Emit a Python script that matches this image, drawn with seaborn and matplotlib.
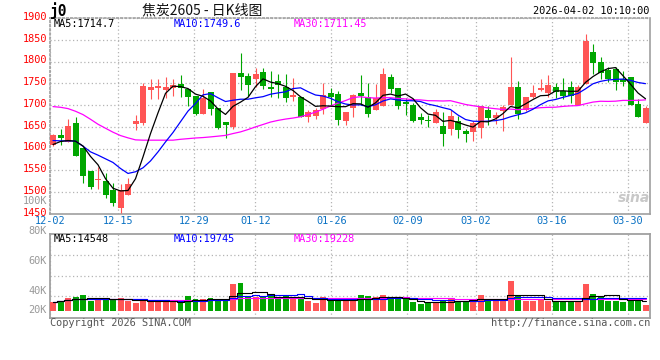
import numpy as np
import pandas as pd
import matplotlib
matplotlib.use("Agg")
import matplotlib.pyplot as plt
from matplotlib.transforms import ScaledTranslation
import seaborn as sns

# ---------------- data ----------------
tick_labels = ["12-02", "12-15", "12-29", "01-12", "01-26", "02-09", "03-02", "03-16", "03-30"]
tick_index = [0, 9, 19, 27, 37, 47, 56, 66, 76]

opens = [1608, 1631.7, 1614.9, 1659.1, 1600.4, 1547.7, 1527.1, 1526.3, 1505.7, 1464.5,
         1492.7, 1656.9, 1659.1, 1735.5, 1739.3, 1734.7, 1739.3, 1748.5, 1737, 1721,
         1680.5, 1730.1, 1693.5, 1661.4, 1650, 1773.7, 1766.8, 1760.7, 1776, 1741.6,
         1755.3, 1741.6, 1718.7, 1718.7, 1672.9, 1675.9, 1692, 1727.9, 1725.6, 1663.7,
         1693.5, 1727.9, 1718.7, 1689.7, 1698.8, 1764.5, 1739.3, 1708, 1700.4, 1673.7,
         1666.8, 1659.9, 1653.1, 1646.2, 1663.7, 1640.8, 1638.5, 1648.5, 1689.7, 1671.4,
         1687.4, 1701.1, 1741.6, 1689.7, 1718.7, 1734.7, 1728.6, 1741.6, 1732.4, 1741.6,
         1701.1, 1749.2, 1821.8, 1798.9, 1780.5, 1782.8, 1759.9, 1764.5, 1702.7, 1659.1]
highs = [1633, 1645.4, 1669.1, 1672.9, 1600.4, 1547.7, 1557.6, 1543.9, 1521.7, 1519.4,
         1533.2, 1676.7, 1750.8, 1759.2, 1759.2, 1764.5, 1759.9, 1769.1, 1737, 1721,
         1737, 1730.1, 1693.5, 1661.4, 1773.7, 1819.5, 1773.7, 1785.1, 1785.1, 1778.2,
         1771.4, 1771.4, 1762.2, 1718.7, 1689.7, 1693.5, 1750.8, 1739.3, 1732.4, 1684.3,
         1725.6, 1769.1, 1750.8, 1748.5, 1785.1, 1771.4, 1739.3, 1716.4, 1704.9, 1682,
         1676.7, 1692, 1684.3, 1689.7, 1675.2, 1645.4, 1663.7, 1698.1, 1698.9, 1684.3,
         1701.1, 1810.3, 1755.3, 1718.7, 1746.2, 1759.9, 1769.1, 1750.8, 1762.2, 1755.3,
         1746.2, 1863, 1840.1, 1809.5, 1787.4, 1787.4, 1778.2, 1764.5, 1714.1, 1698.9]
lows = [1607, 1609.5, 1614.9, 1584.3, 1521.7, 1508, 1508, 1487.4, 1468.3, 1453,
        1492.7, 1643.9, 1654.6, 1714.1, 1714.1, 1715.6, 1720.2, 1718.7, 1698.8, 1676.7,
        1680.5, 1676.7, 1646.2, 1624.8, 1645.4, 1735.5, 1720.2, 1741.6, 1737.8, 1718.7,
        1716.4, 1707.2, 1709.5, 1672.9, 1661.4, 1669.1, 1680.5, 1697.3, 1655.3, 1655.3,
        1672.9, 1701.1, 1672.9, 1689.7, 1698.8, 1727.9, 1692, 1678.2, 1661.4, 1657.6,
        1650, 1659.9, 1607.2, 1632.4, 1624, 1616.4, 1618.7, 1624.8, 1655.3, 1657.6,
        1641.6, 1701.1, 1669.1, 1687.4, 1716.4, 1733.2, 1718.7, 1716.4, 1714.1, 1704.9,
        1701.1, 1749.2, 1771.4, 1759.9, 1753, 1734.7, 1743.9, 1700.4, 1672.9, 1659.1]
closes = [1631.7, 1625.6, 1652.3, 1584.3, 1536.3, 1512.6, 1529.4, 1492.7, 1474.4, 1505.7,
          1517.9, 1663.7, 1743.9, 1741.6, 1743.9, 1741.6, 1746.2, 1739.3, 1718.7, 1680.5,
          1716.4, 1692, 1648.5, 1655.3, 1773.7, 1764.5, 1746.9, 1771.4, 1744.7, 1737,
          1746.2, 1716.4, 1723.3, 1672.9, 1684.3, 1688.9, 1723.3, 1718.7, 1666.8, 1684.3,
          1723.3, 1721, 1680.5, 1716.4, 1771.4, 1737, 1698.8, 1703.4, 1663.7, 1666.8,
          1664.5, 1684.3, 1634, 1675.2, 1643.9, 1634.7, 1659.9, 1698.1, 1671.4, 1677.5,
          1695.8, 1741.6, 1680.5, 1718.7, 1727.9, 1739.3, 1746.2, 1730.1, 1721, 1721,
          1741.6, 1847, 1797.3, 1773.7, 1759.9, 1753, 1753, 1700.4, 1672.9, 1693.5]
volumes_k = [14.0, 15.5, 19.1, 21.2, 24.3, 15.5, 19.1, 17.6, 17.6, 19.1,
             15.5, 11.9, 17.6, 14.0, 14.0, 14.0, 14.0, 14.0, 22.7, 17.6,
             17.6, 19.1, 15.5, 17.6, 41.4, 43.4, 20.7, 20.7, 20.7, 22.7,
             17.6, 24.3, 20.7, 19.1, 15.5, 11.9, 20.7, 15.5, 16.5, 15.5,
             15.5, 24.3, 22.7, 21.2, 24.3, 17.6, 17.6, 17.6, 14.0, 10.3,
             11.4, 14.0, 16.5, 17.6, 15.5, 14.0, 17.6, 24.3, 17.6, 15.5,
             17.6, 46.0, 24.3, 15.5, 15.5, 17.6, 15.5, 14.0, 14.0, 14.0,
             15.5, 41.4, 25.9, 20.7, 15.5, 15.5, 14.0, 19.1, 16.5, 8.8]

# moving-average values at the start of the window (history before 12-02)
ma5_head = [1609.5, 1616.4, 1618.7, 1617.2]
ma10_head = [1618.7, 1617.9, 1617.9, 1617.2, 1605.7, 1592.7, 1585.1, 1576.7, 1568.3]
ma30_head = [1696.6, 1695.0, 1692.0, 1685.9, 1678.2, 1667.5, 1656.1, 1646.9, 1637.8, 1630.1,
             1624.8, 1620.2, 1619.5, 1619.5, 1619.5, 1619.5, 1619.5, 1621.5, 1623.0, 1624.5,
             1625.5, 1627.0, 1628.7, 1630.5, 1634.7, 1638.5, 1643.9, 1650.0, 1655.5]

title_text = "焦炭2605 - 日K线图"
code_text = "j0"
stamp_text = "2026-04-02 10:10:00"
price_legend = ["MA5:1714.7", "MA10:1749.6", "MA30:1711.45"]
vol_legend = ["MA5:14548", "MA10:19745", "MA30:19228"]
vol_axis_labels = ["100K", "80K", "60K", "40K", "20K"]
footer_left = "Copyright 2026 SINA.COM"
footer_right = "http://finance.sina.com.cn"

# ---------------- styles ----------------
RED = "#ff5555"
GREEN = "#00a600"
BLUE = "#0000ff"
MAGENTA = "#ff00ff"
GRID = "#b4b4b4"
FRAME = "#a0a0a0"
DATECOL = "#0b72c4"
MONO = "DejaVu Sans Mono"

sns.set_style("white")
plt.rcParams["font.family"] = ["DejaVu Sans Mono", "DejaVu Sans"]

W, H = 660, 360
fig = plt.figure(figsize=(W / 100, H / 100), dpi=100)


def fx(x):
    return x / W


def fy(y):
    return 1 - y / H


ax = fig.add_axes([fx(50), fy(214), 600 / W, 196 / H])
axv = fig.add_axes([fx(50), fy(317.7), 600 / W, 83.4 / H])

idx = np.arange(len(closes))
o = np.array(opens)
hi = np.array(highs)
lo = np.array(lows)
c = np.array(closes)
up = c >= o
cols = np.where(up, RED, GREEN)

# candles
ax.vlines(idx, lo, hi, colors=cols, lw=0.8, zorder=3)
body_lo = np.minimum(o, c)
body_h = np.maximum(np.abs(c - o), 2.0)
ax.bar(idx, body_h, bottom=body_lo, width=0.8, color=cols, linewidth=0, zorder=3)


def moving(series, n, head):
    m = pd.Series(series).rolling(n).mean().to_numpy()
    m[:len(head)] = head
    return m


ma5 = moving(closes, 5, ma5_head)
ma10 = moving(closes, 10, ma10_head)
ma30 = moving(closes, 30, ma30_head)
for m, colr in [(ma30, MAGENTA), (ma10, BLUE), (ma5, "black")]:
    sns.lineplot(x=idx, y=m, ax=ax, color=colr, lw=0.9, estimator=None, zorder=4)

# volume
vdf = pd.DataFrame({"idx": idx, "vol": volumes_k, "dir": np.where(up, "up", "down")})
sns.barplot(data=vdf, x="idx", y="vol", hue="dir", palette={"up": RED, "down": GREEN},
            native_scale=True, width=0.8, dodge=False, legend=False, saturation=1,
            errorbar=None, linewidth=0, ax=axv, zorder=3)
vs = pd.Series(volumes_k)
for n, colr in [(30, MAGENTA), (10, BLUE), (5, "black")]:
    vm = vs.rolling(n, min_periods=1).mean().to_numpy()
    sns.lineplot(x=idx, y=vm, ax=axv, color=colr, lw=0.8, estimator=None,
                 drawstyle="steps-mid", zorder=4)

# axes / grids
grid_x = np.array(tick_index) * (7.6 / 7.5) - 0.4
for a in (ax, axv):
    a.set_xlim(-0.4, 79.6)
    a.set_xticks(grid_x)
    a.grid(True, color=GRID, lw=0.9, linestyle=(0, (1, 2)))
    a.set_axisbelow(True)
    a.set_xlabel("")
    a.set_ylabel("")
    a.tick_params(length=0)

ax.set_ylim(1450, 1900)
ax.set_yticks(np.arange(1450, 1901, 50))
ax.set_yticklabels([str(v) for v in range(1450, 1901, 50)], color="#ff0000",
                   fontsize=7.4, family=MONO)
ax.tick_params(axis="y", pad=2)
shift_up = ScaledTranslation(0, 2.2 / 100, fig.dpi_scale_trans)
for lab in ax.get_yticklabels():
    lab.set_transform(lab.get_transform() + shift_up)
ax.set_xticklabels(tick_labels, color=DATECOL, fontsize=7.4, family=MONO)
ax.tick_params(axis="x", pad=1.8)

base_px = 310.7
k_per_px = 1.551
axv.set_ylim(-(317.7 - base_px) * k_per_px, (base_px - 234.3) * k_per_px)
axv.set_yticks([(base_px - yy) * k_per_px for yy in (255, 275.5, 296)])
axv.set_yticklabels([])
axv.set_xticklabels([])

for name, sp in ax.spines.items():
    sp.set_visible(True)
    sp.set_color(FRAME)
    sp.set_linewidth(1.2)
    if name in ("top", "left"):
        sp.set_linestyle((0, (1, 1.5)))
for sp in axv.spines.values():
    sp.set_visible(True)
    sp.set_color(FRAME)
    sp.set_linewidth(1.3)

# texts
fig.text(fx(50), fy(10.5), code_text, fontsize=10.5, weight="bold", family=MONO,
         va="center", ha="left", color="black")
fig.text(fx(202), fy(10), title_text, fontsize=10,
         family=["Noto Sans CJK SC", "DejaVu Sans"], va="center", ha="center", color="#111111")
fig.text(fx(649), fy(11.5), stamp_text, fontsize=7.4, family=MONO, va="center",
         ha="right", color="black")

for txt, xx, colr in zip(price_legend, (54, 174, 294), ("black", BLUE, MAGENTA)):
    fig.text(fx(xx), fy(23.7), txt, fontsize=7.4, family=MONO, va="center", ha="left", color=colr)
for txt, xx, colr in zip(vol_legend, (54, 174, 294), ("black", BLUE, MAGENTA)):
    fig.text(fx(xx), fy(238.5), txt, fontsize=7.4, family=MONO, va="center", ha="left", color=colr)

for txt, yy in zip(vol_axis_labels, (200.5, 231, 261, 291, 310)):
    fig.text(fx(47), fy(yy), txt, fontsize=7.4, family=MONO, va="center", ha="right",
             color="#999999")

fig.text(fx(50), fy(323.5), footer_left, fontsize=7.4, family=MONO, va="center",
         ha="left", color="#555555")
fig.text(fx(650), fy(323.5), footer_right, fontsize=7.4, family=MONO, va="center",
         ha="right", color="#555555")

# faint sina watermark
fig.text(fx(634), fy(198), "sina", fontsize=10, family="DejaVu Sans", style="italic",
         weight="bold", color="#c8c8c8", va="center", ha="center", zorder=1)

fig.savefig("out.png", dpi=100)
